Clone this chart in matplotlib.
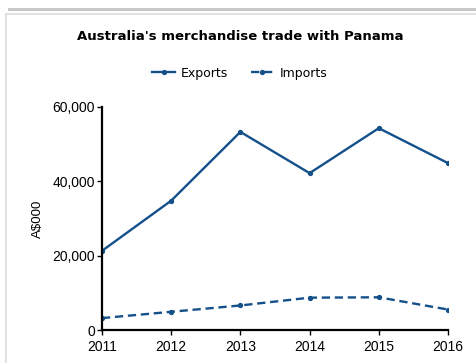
import matplotlib.pyplot as plt
from matplotlib.lines import Line2D
from matplotlib.patches import Rectangle
from matplotlib.ticker import FuncFormatter

years = [2011, 2012, 2013, 2014, 2015, 2016]
exports = [21300, 34800, 53300, 42200, 54300, 44900]
imports = [3200, 4900, 6600, 8700, 8800, 5500]

W, H = 477, 363
fig = plt.figure(figsize=(W / 100, H / 100), dpi=100)
fig.patch.set_facecolor('white')

# panel frame: grey bar on top, thin border on left/top
fig.add_artist(Rectangle((8 / W, 1 - 11 / H), 1, 3 / H, transform=fig.transFigure,
                         facecolor='#c8c8c8', edgecolor='none'))
fig.add_artist(Line2D([6.5 / W, 1], [1 - 13.5 / H, 1 - 13.5 / H], transform=fig.transFigure,
                      color='#dcdcdc', lw=1.2))
fig.add_artist(Line2D([6.5 / W, 6.5 / W], [0, 1 - 13.5 / H], transform=fig.transFigure,
                      color='#dcdcdc', lw=1.2))

ax = fig.add_axes([102 / W, 1 - 330 / H, (448 - 102) / W, (330 - 107) / H])
col = '#14508a'
ax.plot(years, exports, color=col, lw=1.7, marker='o', ms=2.8, label='Exports')
ax.plot(years, imports, color=col, lw=1.7, ls=(0, (3.5, 2)), marker='o', ms=2.8, label='Imports')

ax.set_xlim(2011, 2016)
ax.set_ylim(0, 60000)
ax.set_yticks([0, 20000, 40000, 60000])
ax.yaxis.set_major_formatter(FuncFormatter(lambda v, p: f'{int(v):,}'))
ax.set_xticks(years)
for s in ['top', 'right']:
    ax.spines[s].set_visible(False)
for s in ['left', 'bottom']:
    ax.spines[s].set_linewidth(1.6)
    ax.spines[s].set_color('black')
ax.tick_params(axis='both', length=3.5, width=1, labelsize=10,
               labelfontfamily='Liberation Sans', colors='black')
ax.tick_params(axis='y', pad=1.5)
ax.tick_params(axis='x', pad=3.5)
ax.set_ylabel('A$000', fontsize=9.5, family='Liberation Sans')
ax.yaxis.set_label_coords(-0.168, 0.5)

fig.text(240 / W, 1 - 37 / H, "Australia's merchandise trade with Panama",
         ha='center', va='center', fontsize=9.5, fontweight='bold')
fig.legend(handles=ax.get_lines(), loc='center', bbox_to_anchor=(240 / W, 1 - 73 / H),
           ncol=2, frameon=False, fontsize=9, handlelength=1.8, handletextpad=0.5,
           columnspacing=1.8)

fig.savefig('out.png', dpi=100)
